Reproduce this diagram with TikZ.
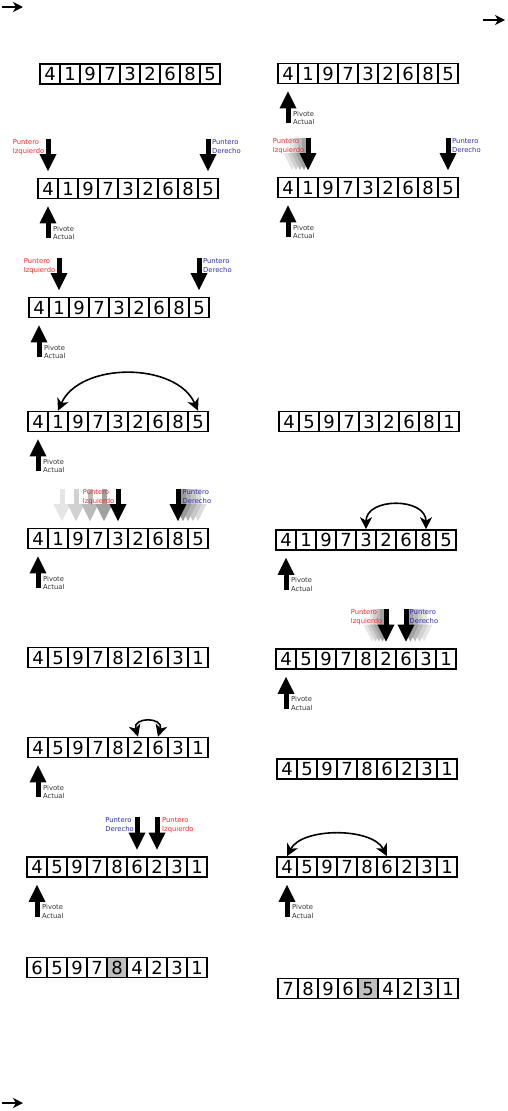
\documentclass[tikz,border=0pt]{standalone}
\usepackage{fontspec}
\setmainfont{DejaVu Sans}
\usetikzlibrary{arrows.meta,calc}
\definecolor{izqred}{RGB}{245,40,40}
\definecolor{derblue}{RGB}{45,45,175}
\tikzset{
 cell/.style={draw, line width=1.6pt, minimum width=20pt, minimum height=20pt, inner sep=0pt,
   font=\fontsize{18}{18}\selectfont, text height=13pt, text depth=0pt},
 hl/.style={fill=black!25},
 ptr/.style={line width=5pt, -{Triangle[length=17pt,width=17pt,line width=0pt]}},
 swaparc/.style={line width=1.6pt, {Stealth[length=12pt,width=12pt,inset=3.5pt]}-{Stealth[length=12pt,width=12pt,inset=3.5pt]}},
 corner/.style={line width=1.5pt, -{Stealth[length=10pt,width=10pt,inset=3pt]}},
 lab/.style={font=\fontsize{6.8}{8.7}\selectfont, inner sep=0pt, align=left},
 izq/.style={lab, text=izqred, anchor=north east},
 der/.style={lab, text=derblue, anchor=north west},
 piv/.style={lab, text=black!80, anchor=north west},
}
\newcommand\arr[5][0]{\foreach \v [count=\i] in {#5} {\ifnum\i=#1\relax
  \node[cell,hl] (#2c\i) at ({#3+10+20*(\i-1)},#4) {\v};\else
  \node[cell] (#2c\i) at ({#3+10+20*(\i-1)},#4) {\v};\fi}}
\newcommand\pdown[3][black]{\draw[ptr,color=#1] ($(#2.north)+(#3,-39)$) -- ($(#2.north)+(#3,-6.5)$);}
\newcommand\pup[1]{\draw[ptr] ($(#1.south)+(0,39)$) -- ($(#1.south)+(0,7)$);
  \node[piv] (#1piv) at ($(#1.south)+(5,26.5)$) {Pivote\\Actual};}
\begin{document}
\begin{tikzpicture}[x=1pt,y=-1pt]
\useasboundingbox (0,0) rectangle (508,1111);
% corner arrows
\coordinate (tla) at (2,7); \coordinate (tlb) at (23,7);
\coordinate (tra) at (483,20); \coordinate (trb) at (505,20);
\coordinate (bla) at (2,1103); \coordinate (blb) at (23,1103);
\draw[corner] (tla) -- (tlb);
\draw[corner] (tra) -- (trb);
\draw[corner] (bla) -- (blb);

% ---------------- left column
\arr{La}{40}{74}{4,1,9,7,3,2,6,8,5}

\arr{Lb}{38}{188.5}{4,1,9,7,3,2,6,8,5}
\pdown{Lbc1}{0} \pdown{Lbc9}{0}
\node[izq] (Lbizq) at ($(Lbc1.north)+(-3.5,-38.5)$) {Puntero\\Izquierdo};
\node[der] (Lbder) at ($(Lbc9.north)+(4,-38.5)$) {Puntero\\Derecho};
\pup{Lbc1}

\arr{Lc}{29}{307.5}{4,1,9,7,3,2,6,8,5}
\pdown{Lcc2}{0} \pdown{Lcc9}{0}
\node[izq] (Lcizq) at ($(Lcc2.north)+(-3.5,-38.5)$) {Puntero\\Izquierdo};
\node[der] (Lcder) at ($(Lcc9.north)+(4,-38.5)$) {Puntero\\Derecho};
\pup{Lcc1}

\arr{Ld}{28}{421.5}{4,1,9,7,3,2,6,8,5}
\draw[swaparc] (Ldc2.north) .. controls +(22,-49) and +(-22,-49) .. (Ldc9.north);
\pup{Ldc1}

\arr{Le}{28}{538.5}{4,1,9,7,3,2,6,8,5}
\pdown[black!10]{Lec5}{-56} \pdown[black!18]{Lec5}{-42} \pdown[black!27]{Lec5}{-28} \pdown[black!37]{Lec5}{-14}
\pdown{Lec5}{0}
\pdown[black!14]{Lec8}{20} \pdown[black!22]{Lec8}{15} \pdown[black!30]{Lec8}{10} \pdown[black!40]{Lec8}{5}
\pdown{Lec8}{0}
\node[izq] (Leizq) at ($(Lec5.north)+(-3.5,-38.5)$) {Puntero\\Izquierdo};
\node[der] (Leder) at ($(Lec8.north)+(4.5,-38.5)$) {Puntero\\Derecho};
\pup{Lec1}

\arr{Lf}{28}{657.5}{4,5,9,7,8,2,6,3,1}

\arr{Lg}{28}{747.5}{4,5,9,7,8,2,6,3,1}
\draw[swaparc] (Lgc6.north) .. controls +(-6,-20) and +(6,-20) .. (Lgc7.north);
\pup{Lgc1}

\arr{Lh}{27}{867}{4,5,9,7,8,6,2,3,1}
\pdown{Lhc6}{0} \pdown{Lhc7}{0}
\node[der,anchor=north east] (Lhder) at ($(Lhc6.north)+(-3,-38.5)$) {Puntero\\Derecho};
\node[izq,anchor=north west] (Lhizq) at ($(Lhc7.north)+(5,-38.5)$) {Puntero\\Izquierdo};
\pup{Lhc1}

\arr[5]{Li}{27}{967.5}{6,5,9,7,8,4,2,3,1}

% ---------------- right column
\arr{Ra}{278}{73.5}{4,1,9,7,3,2,6,8,5}
\pup{Rac1}

\arr{Rb}{278}{187.5}{4,1,9,7,3,2,6,8,5}
\pdown[black!10]{Rbc2}{-16} \pdown[black!18]{Rbc2}{-12} \pdown[black!27]{Rbc2}{-8} \pdown[black!37]{Rbc2}{-4}
\pdown{Rbc2}{0} \pdown{Rbc9}{0}
\node[izq] (Rbizq) at ($(Rbc2.north)+(-3.5,-38.5)$) {Puntero\\Izquierdo};
\node[der] (Rbder) at ($(Rbc9.north)+(4,-38.5)$) {Puntero\\Derecho};
\pup{Rbc1}

\arr{Rc}{279}{421.5}{4,5,9,7,3,2,6,8,1}

\arr{Rd}{276}{540}{4,1,9,7,3,2,6,8,5}
\draw[swaparc] (Rdc5.north) .. controls +(0,-32) and +(0,-32) .. (Rdc8.north);
\pup{Rdc1}

\arr{Re}{276}{659}{4,5,9,7,8,2,6,3,1}
\pdown[black!10]{Rec6}{-14} \pdown[black!18]{Rec6}{-10.5} \pdown[black!27]{Rec6}{-7} \pdown[black!37]{Rec6}{-3.5}
\pdown{Rec6}{0}
\pdown[black!10]{Rec7}{18} \pdown[black!18]{Rec7}{13.5} \pdown[black!27]{Rec7}{9} \pdown[black!37]{Rec7}{4.5}
\pdown{Rec7}{0}
\node[izq] (Reizq) at ($(Rec6.north)+(-3.5,-38.5)$) {Puntero\\Izquierdo};
\node[der] (Reder) at ($(Rec7.north)+(3.5,-38.5)$) {Puntero\\Derecho};
\pup{Rec1}

\arr{Rf}{277}{769}{4,5,9,7,8,6,2,3,1}

\arr{Rg}{277}{867}{4,5,9,7,8,6,2,3,1}
\draw[swaparc] (Rgc1.north) .. controls +(15,-29) and +(-15,-29) .. (Rgc6.north);
\pup{Rgc1}

\arr[5]{Rh}{278}{988.5}{7,8,9,6,5,4,2,3,1}
\end{tikzpicture}
\end{document}
